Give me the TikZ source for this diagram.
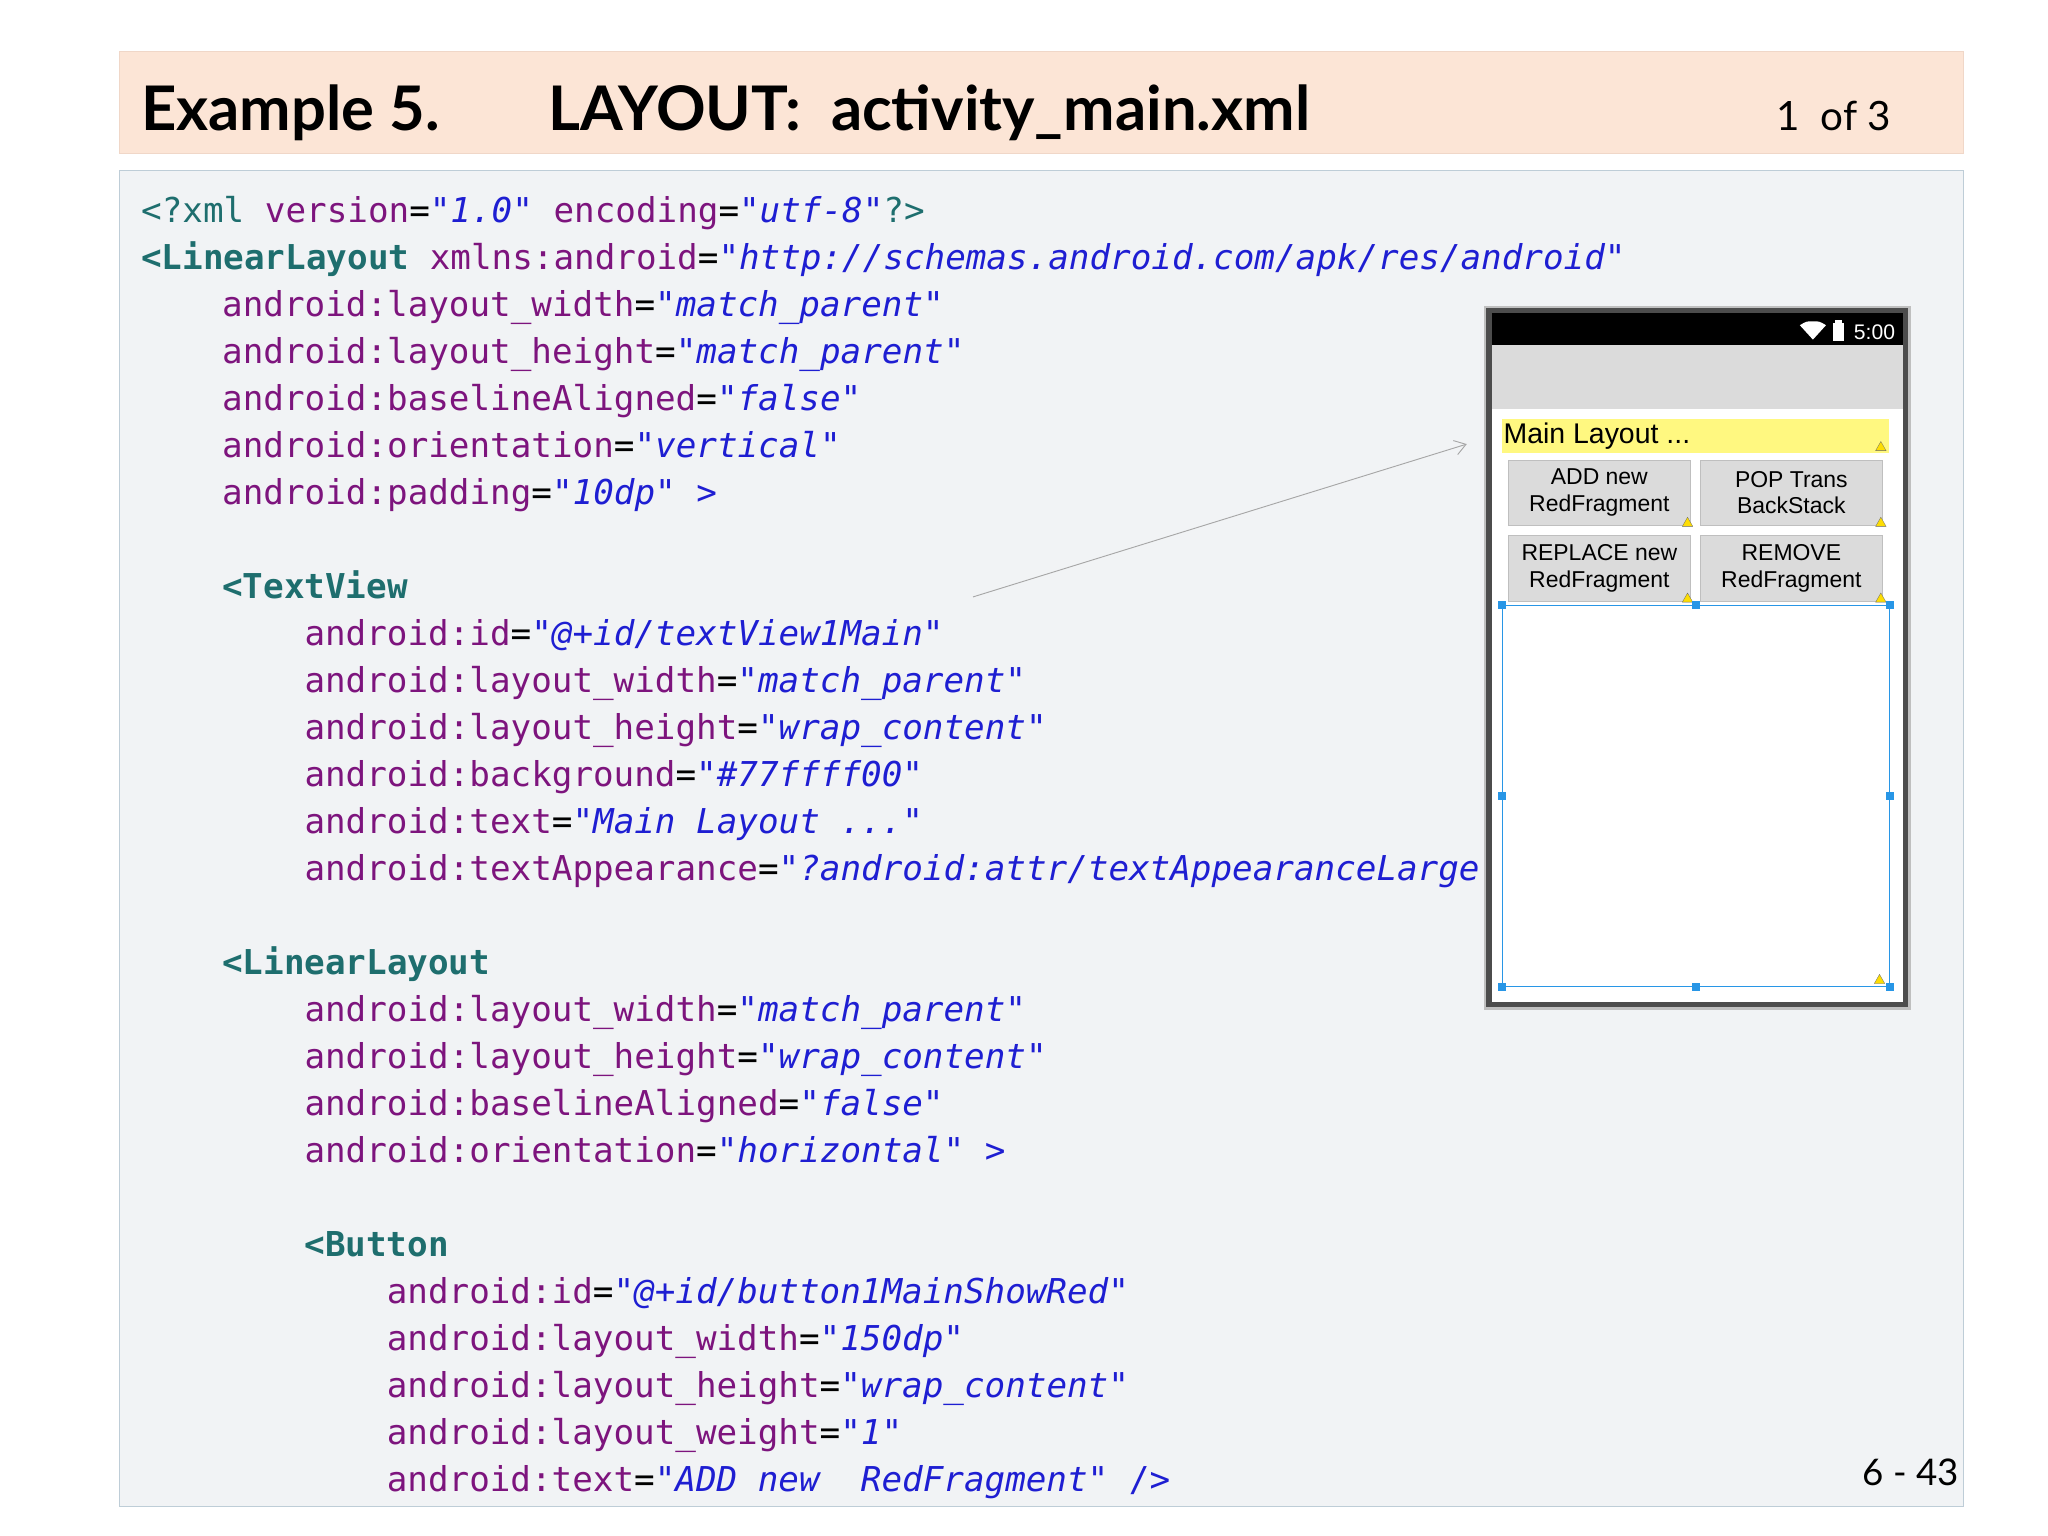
\documentclass[tikz,border=0pt]{standalone}
\usepackage{fontspec}
\setmainfont{Lato}
\setmonofont{DejaVu Sans Mono}
\newfontfamily\phonefont{Liberation Sans}
\usetikzlibrary{arrows.meta}
\definecolor{hdrbg}{RGB}{252,229,214}
\definecolor{hdrbd}{RGB}{240,215,200}
\definecolor{codebg}{RGB}{241,243,245}
\definecolor{codebd}{RGB}{190,205,215}
\definecolor{tagc}{RGB}{30,110,110}
\definecolor{attc}{RGB}{125,20,125}
\definecolor{valc}{RGB}{30,30,210}
\definecolor{selc}{RGB}{40,150,230}
\newcommand{\tg}[1]{{\color{tagc}\bfseries #1}}
\newcommand{\tgn}[1]{{\color{tagc}#1}}
\newcommand{\at}[1]{{\color{attc}#1}}
\newcommand{\vl}[1]{{\color{valc}\itshape #1}}
\newcommand{\pn}[1]{{\color{valc}#1}}
\tikzset{
 cl/.style={anchor=base west,inner sep=0pt,font=\fontsize{37.3}{37}\selectfont\ttfamily},
 btn/.style={draw=black!25,fill=black!14,minimum width=139*0.05cm,minimum height=50*0.05cm,inner sep=0pt,align=center,font=\fontsize{25}{29}\selectfont\phonefont},
 hdl/.style={fill=selc,minimum size=6*0.05cm,inner sep=0pt},
 warn/.style={fill=yellow!80!orange,draw=black!60,line width=0.3pt}
}
\begin{document}
\begin{tikzpicture}[x=0.05cm,y=-0.05cm]
\useasboundingbox[fill=white] (0,0) rectangle (1568,1176);
% header
\node[draw=hdrbd,fill=hdrbg,minimum width=1412*0.05cm,minimum height=78*0.05cm,anchor=north west,inner sep=0pt] (hdr) at (91,39) {};
\node[anchor=base west,inner sep=0pt,font=\fontsize{67}{67}\selectfont\bfseries] (title) at (108,100) {Example 5.};
\node[anchor=base west,inner sep=0pt,font=\fontsize{67}{67}\selectfont\bfseries] (title2) at (420,100) {LAYOUT:\ \ activity\_main.xml};
\node[anchor=base east,inner sep=0pt,font=\fontsize{44}{44}\selectfont] (pg) at (1448,100) {1\ \ of 3};
% code box
\node[draw=codebd,fill=codebg,minimum width=1412*0.05cm,minimum height=1023*0.05cm,anchor=north west,inner sep=0pt] (code) at (91,130) {};
\def\bl{10}
\node[cl] (l1) at (108,160+\bl) {\tgn{<?xml} \at{version}=\vl{"1.0"} \at{encoding}=\vl{"utf-8"}\tgn{?>}};
\node[cl] (l2) at (108,196+\bl) {\tg{<LinearLayout} \at{xmlns:android}=\vl{"http://schemas.android.com/apk/res/android"}};
\node[cl] (l3) at (170,232+\bl) {\at{android:layout\_width}=\vl{"match\_parent"}};
\node[cl] (l4) at (170,268+\bl) {\at{android:layout\_height}=\vl{"match\_parent"}};
\node[cl] (l5) at (170,304+\bl) {\at{android:baselineAligned}=\vl{"false"}};
\node[cl] (l6) at (170,340+\bl) {\at{android:orientation}=\vl{"vertical"}};
\node[cl] (l7) at (170,376+\bl) {\at{android:padding}=\vl{"10dp"} \pn{>}};
\node[cl] (l8) at (170,448+\bl) {\tg{<TextView}};
\node[cl] (l9) at (233,484+\bl) {\at{android:id}=\vl{"@+id/textView1Main"}};
\node[cl] (l10) at (233,520+\bl) {\at{android:layout\_width}=\vl{"match\_parent"}};
\node[cl] (l11) at (233,556+\bl) {\at{android:layout\_height}=\vl{"wrap\_content"}};
\node[cl] (l12) at (233,592+\bl) {\at{android:background}=\vl{"\#77ffff00"}};
\node[cl] (l13) at (233,628+\bl) {\at{android:text}=\vl{"Main Layout ..."}};
\node[cl] (l14) at (233,664+\bl) {\at{android:textAppearance}=\vl{"?android:attr/textAppearanceLarge"}};
\node[cl] (l15) at (170,736+\bl) {\tg{<LinearLayout}};
\node[cl] (l16) at (233,772+\bl) {\at{android:layout\_width}=\vl{"match\_parent"}};
\node[cl] (l17) at (233,808+\bl) {\at{android:layout\_height}=\vl{"wrap\_content"}};
\node[cl] (l18) at (233,844+\bl) {\at{android:baselineAligned}=\vl{"false"}};
\node[cl] (l19) at (233,880+\bl) {\at{android:orientation}=\vl{"horizontal"} \pn{>}};
\node[cl] (l20) at (233,952+\bl) {\tg{<Button}};
\node[cl] (l21) at (296,988+\bl) {\at{android:id}=\vl{"@+id/button1MainShowRed"}};
\node[cl] (l22) at (296,1024+\bl) {\at{android:layout\_width}=\vl{"150dp"}};
\node[cl] (l23) at (296,1060+\bl) {\at{android:layout\_height}=\vl{"wrap\_content"}};
\node[cl] (l24) at (296,1096+\bl) {\at{android:layout\_weight}=\vl{"1"}};
\node[cl] (l25) at (296,1132+\bl) {\at{android:text}=\vl{"ADD new\ \ RedFragment"} \pn{/>}};
\node[anchor=base east,inner sep=0pt,font=\fontsize{40}{40}\selectfont] (num) at (1500,1137) {6 - 43};
% phone
\fill[black!25] (1136,234) rectangle (1463,773);
\fill[black!70] (1138,236) rectangle (1461,771);
\fill[white] (1142,240) rectangle (1457,767);
\fill[black] (1142,240) rectangle (1457,264);
\fill[black!14] (1142,264) rectangle (1457,313);
\fill[white] (1388,246) .. controls (1383,246) .. (1378,249) -- (1388,260) -- (1398,249) .. controls (1393,246) .. (1388,246);
\fill[white] (1403,247) rectangle (1412,261);
\fill[white] (1405,245) rectangle (1410,247);
\node[anchor=east,inner sep=0pt,text=white,font=\fontsize{23}{23}\selectfont\phonefont] (clock) at (1451,254) {5:00};
\node[fill=yellow!50,minimum width=296*0.05cm,minimum height=26*0.05cm,anchor=north west,inner sep=0pt] (tv) at (1150,321) {};
\node[anchor=west,inner sep=0pt,font=\fontsize{31}{31}\selectfont\phonefont] (tvt) at (1151,334) {Main Layout ...};
\node[btn] (b1) at (1224.5,377) {ADD new\\RedFragment};
\node[btn] (b2) at (1371.5,377) {POP Trans\\BackStack};
\node[btn] (b3) at (1224.5,435) {REPLACE new\\RedFragment};
\node[btn] (b4) at (1371.5,435) {REMOVE\\RedFragment};
\foreach \p in {(1440,342),(1292,400),(1440,400),(1292,458),(1440,458),(1439,750)}{
  \path \p coordinate (w);
  \fill[warn] ([xshift=-4*0.05cm,yshift=-3*0.05cm]w) -- ([xshift=4*0.05cm,yshift=-3*0.05cm]w) -- ([yshift=4*0.05cm]w) -- cycle;
}
\node[draw=selc,line width=1pt,minimum width=296*0.05cm,minimum height=292*0.05cm,anchor=north west,inner sep=0pt] (sel) at (1150,463) {};
\foreach \a in {north west,north,north east,west,east,south west,south,south east}{
  \node[hdl] at (sel.\a) {};
}
% arrow
\coordinate (as) at (745,457);
\coordinate (ae) at (1123,340);
\draw[black!35,line width=1pt,-{Straight Barb[length=12pt,width=16pt]}] (as) -- (ae);
\end{tikzpicture}
\end{document}
